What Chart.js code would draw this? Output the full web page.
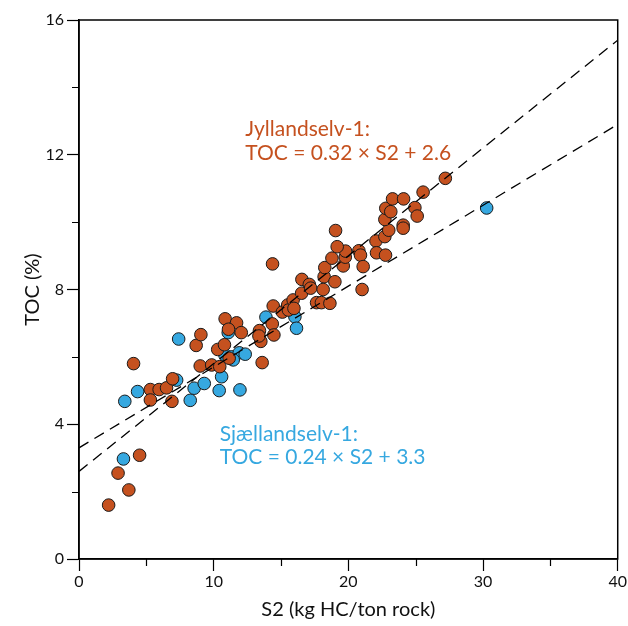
<!DOCTYPE html>
<html>
<head>
<meta charset="utf-8">
<script src="https://cdn.jsdelivr.net/npm/chart.js@4/dist/chart.umd.min.js"></script>
<style>html,body{margin:0;padding:0;background:#fff;}canvas{display:block;}</style>
</head>
<body>
<canvas id="c" width="628" height="626"></canvas>
<script>
// Jyllandselv-1 samples: S2 (kg HC/ton rock) and TOC (%)
const jyllS2 = [2.2,2.9,3.7,4.5,4.05,5.3,5.95,6.5,6.95,5.3,6.9,8.7,9.05,10.3,10.8,10.85,11.7,11.1,12.05,11.15,9.0,9.85,10.45,13.6,13.4,13.5,13.36,14.35,14.47,14.42,15.1,15.5,15.55,14.37,15.9,15.96,16.55,16.53,17.1,17.2,17.64,18.0,18.63,18.13,18.2,18.25,18.78,19.0,19.62,19.77,19.79,19.17,19.05,20.78,20.9,21.1,21.02,22.05,22.09,22.76,22.71,23.0,22.71,22.78,23.15,23.28,24.1,24.07,24.07,24.94,25.11,25.55,27.2];
const jyllTOC = [1.6,2.55,2.05,3.08,5.8,5.03,5.03,5.08,5.35,4.72,4.68,6.34,6.66,6.22,6.36,7.13,7.01,6.82,6.72,5.96,5.73,5.76,5.71,5.83,6.78,6.46,6.62,6.98,6.65,7.51,7.33,7.54,7.39,8.76,7.69,7.44,8.30,7.89,8.15,8.04,7.61,7.61,7.59,8.0,8.38,8.65,8.93,8.23,8.70,8.96,9.14,9.27,9.75,9.15,9.02,8.68,8.0,9.44,9.09,9.02,9.57,9.76,10.08,10.41,10.31,10.69,10.69,9.91,9.82,10.43,10.18,10.89,11.30];
// Sjællandselv-1 samples
const sjalS2 = [3.3,3.4,4.35,7.4,7.25,8.26,8.55,9.3,10.41,10.59,11.95,10.83,11.33,11.9,12.34,11.45,11.08,13.88,16.03,16.15,30.27];
const sjalTOC = [2.97,4.68,4.97,6.53,5.31,4.71,5.07,5.21,5.0,5.41,5.02,6.06,6.0,6.12,6.08,5.91,6.72,7.18,7.19,6.85,10.42];
// Regression line end points (S2 = 0 and S2 = 40)
const lineS2 = [0, 40];
const jyllLineTOC = [2.6, 15.4];
const sjalLineTOC = [3.3, 12.9];
// Axis ticks
const xTicks = [0, 10, 20, 30, 40];
const xMinorTicks = [5, 15, 25, 35];
const yTicks = [0, 4, 8, 12, 16];
const yMinorTicks = [2, 6, 10, 14];
// Labels
const xTitle = 'S2 (kg HC/ton rock)';
const yTitle = 'TOC (%)';
const jyllLabel = ['Jyllandselv-1:', 'TOC = 0.32 × S2 + 2.6'];
const sjalLabel = ['Sjællandselv-1:', 'TOC = 0.24 × S2 + 3.3'];

const ORANGE = '#C5511F';
const BLUE = '#36A8E0';
const FONT = 'Lato, "Open Sans", sans-serif';

const pts = (xs, ys) => xs.map((x, i) => ({x: x, y: ys[i]}));

const decor = {
  id: 'decor',
  afterDraw(chart) {
    const ctx = chart.ctx, ca = chart.chartArea;
    const xs = chart.scales.x, ys = chart.scales.y;
    ctx.save();
    ctx.strokeStyle = '#000';
    ctx.lineWidth = 1.5;
    ctx.strokeRect(ca.left, ca.top, ca.right - ca.left, ca.bottom - ca.top);
    ctx.lineWidth = 1.2;
    ctx.beginPath();
    xMinorTicks.forEach(v => {
      const p = Math.round(xs.getPixelForValue(v)) + 0.5;
      ctx.moveTo(p, ca.bottom); ctx.lineTo(p, ca.bottom + 7);
    });
    yMinorTicks.forEach(v => {
      const p = Math.round(ys.getPixelForValue(v)) + 0.5;
      ctx.moveTo(ca.left, p); ctx.lineTo(ca.left - 7, p);
    });
    ctx.stroke();
    // axis titles
    ctx.fillStyle = '#111';
    ctx.font = '20px ' + FONT;
    ctx.textAlign = 'center';
    ctx.textBaseline = 'middle';
    ctx.fillText(xTitle, (ca.left + ca.right) / 2, ca.bottom + 51);
    ctx.save();
    ctx.translate(33, (ca.top + ca.bottom) / 2);
    ctx.rotate(-Math.PI / 2);
    ctx.fillText(yTitle, 0, 0);
    ctx.restore();
    // annotations
    ctx.textAlign = 'left';
    ctx.font = '21px ' + FONT;
    ctx.fillStyle = ORANGE;
    const jx = xs.getPixelForValue(12.35), jy = ys.getPixelForValue(12.76);
    ctx.fillText(jyllLabel[0], jx, jy);
    ctx.fillText(jyllLabel[1], jx, jy + 24);
    ctx.fillStyle = BLUE;
    const sx = xs.getPixelForValue(10.45), sy = ys.getPixelForValue(3.7);
    ctx.fillText(sjalLabel[0], sx, sy);
    ctx.fillText(sjalLabel[1], sx, sy + 23);
    ctx.restore();
  }
};

new Chart(document.getElementById('c'), {
  type: 'scatter',
  data: {
    datasets: [
      {
        label: 'Jyllandselv-1 fit', data: pts(lineS2, jyllLineTOC), showLine: true,
        borderColor: '#000', borderWidth: 1.3, borderDash: [11, 7], pointRadius: 0, order: 0
      },
      {
        label: 'Sjællandselv-1 fit', data: pts(lineS2, sjalLineTOC), showLine: true,
        borderColor: '#000', borderWidth: 1.3, borderDash: [11, 7], pointRadius: 0, order: 0
      },
      {
        label: 'Jyllandselv-1', data: pts(jyllS2, jyllTOC),
        backgroundColor: ORANGE, borderColor: '#1a1a1a', borderWidth: 1, pointRadius: 6.3, order: 1
      },
      {
        label: 'Sjællandselv-1', data: pts(sjalS2, sjalTOC),
        backgroundColor: BLUE, borderColor: '#1a1a1a', borderWidth: 1, pointRadius: 6.3, order: 2
      }
    ]
  },
  options: {
    responsive: false,
    animation: false,
    events: [],
    layout: { padding: { top: 20, right: 10, left: 0, bottom: 0 } },
    plugins: { legend: { display: false }, tooltip: { enabled: false } },
    scales: {
      x: {
        type: 'linear', min: 0, max: 40,
        afterBuildTicks: s => { s.ticks = xTicks.map(v => ({value: v})); },
        afterFit: s => { s.height = 67; },
        grid: { drawOnChartArea: false, drawTicks: true, tickLength: 12, tickColor: '#000', tickWidth: 1.2 },
        border: { display: true, color: '#000', width: 1.5 },
        ticks: { color: '#111', font: { size: 16, family: FONT }, padding: 1, maxRotation: 0 }
      },
      y: {
        type: 'linear', min: 0, max: 16,
        afterBuildTicks: s => { s.ticks = yTicks.map(v => ({value: v})); },
        afterFit: s => { s.width = 79; },
        grid: { drawOnChartArea: false, drawTicks: true, tickLength: 12, tickColor: '#000', tickWidth: 1.2 },
        border: { display: true, color: '#000', width: 1.5 },
        ticks: { color: '#111', font: { size: 16, family: FONT }, padding: 3 }
      }
    }
  },
  plugins: [decor]
});
</script>
</body>
</html>
